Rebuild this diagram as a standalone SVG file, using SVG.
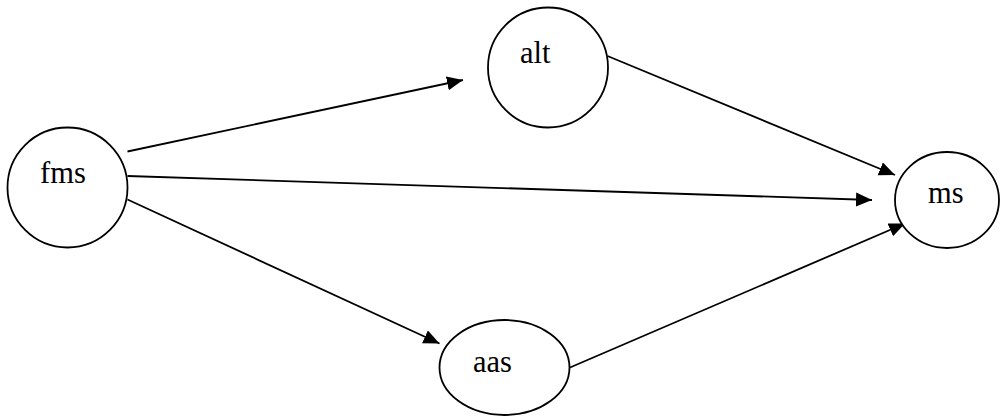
<svg xmlns="http://www.w3.org/2000/svg" width="1008" height="417" viewBox="0 0 1008 417">
<style>
.node{fill:#fff;stroke:#000;stroke-width:1.8}
.lbl{font-family:'Liberation Serif','DejaVu Serif',serif;font-size:30.5px;fill:#000}
.edge{stroke:#000;stroke-width:1.8;fill:none}
</style>
<defs>
<marker id="arr" markerUnits="userSpaceOnUse" markerWidth="17" markerHeight="15" refX="16" refY="7" orient="auto">
<path d="M0,0 L16,7 L0,14 Z" fill="#000"/>
</marker>
</defs>
<rect width="1008" height="417" fill="#fff"/>
<g id="connectors">
<line class="edge" x1="127.5" y1="151.5" x2="463" y2="80" marker-end="url(#arr)"/>
<line class="edge" x1="127.5" y1="176" x2="872" y2="200" marker-end="url(#arr)"/>
<line class="edge" x1="127.5" y1="199.5" x2="439.5" y2="343.5" marker-end="url(#arr)"/>
<line class="edge" x1="607.5" y1="56" x2="895" y2="175" marker-end="url(#arr)"/>
<line class="edge" x1="570" y1="367.5" x2="905" y2="223.5" marker-end="url(#arr)"/>
</g>
<g id="fms">
<circle class="node" cx="67.5" cy="187.5" r="60"/>
<text class="lbl" x="40" y="182.5">fms</text>
</g>
<g id="alt">
<circle class="node" cx="548" cy="67.5" r="60"/>
<text class="lbl" x="520" y="63">alt</text>
</g>
<g id="ms">
<ellipse class="node" cx="947" cy="200" rx="52" ry="48"/>
<text class="lbl" x="928" y="203">ms</text>
</g>
<g id="aas">
<ellipse class="node" cx="504.5" cy="367.5" rx="65" ry="47.5"/>
<text class="lbl" x="473" y="371.5">aas</text>
</g>
</svg>
